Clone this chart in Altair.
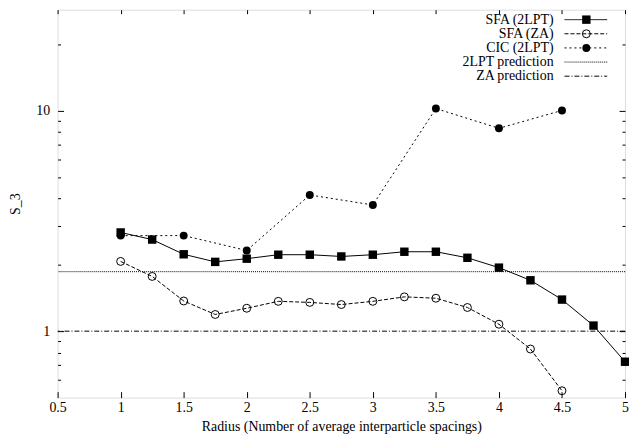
import altair as alt
import pandas as pd

# ---- data ----
radius_sfa = [1.0, 1.25, 1.5, 1.75, 2.0, 2.25, 2.5, 2.75, 3.0, 3.25, 3.5, 3.75, 4.0, 4.25, 4.5, 4.75, 5.0]
s3_sfa_2lpt = [2.80, 2.60, 2.23, 2.06, 2.13, 2.22, 2.22, 2.18, 2.22, 2.29, 2.29, 2.15, 1.94, 1.70, 1.39, 1.06, 0.727]

radius_za = [1.0, 1.25, 1.5, 1.75, 2.0, 2.25, 2.5, 2.75, 3.0, 3.25, 3.5, 3.75, 4.0, 4.25, 4.5]
s3_sfa_za = [2.07, 1.77, 1.37, 1.19, 1.27, 1.365, 1.35, 1.32, 1.365, 1.43, 1.41, 1.28, 1.075, 0.83, 0.537]

radius_cic = [1.0, 1.5, 2.0, 2.5, 3.0, 3.5, 4.0, 4.5]
s3_cic_2lpt = [2.71, 2.71, 2.32, 4.14, 3.73, 10.2, 8.30, 10.0]

pred_2lpt = 1.86
pred_za = 1.0

legend_labels = ["SFA (2LPT)", "SFA (ZA)", "CIC (2LPT)", "2LPT prediction", "ZA prediction"]

x_ticks = [0.5, 1, 1.5, 2, 2.5, 3, 3.5, 4, 4.5, 5]
y_major = [1, 10]
y_minor = [0.6, 0.7, 0.8, 0.9, 2, 3, 4, 5, 6, 7, 8, 9, 20]

# ---- layout ----
W, H = 572, 391
FONT = "Liberation Serif"
FS = 14

xscale = alt.Scale(domain=[0.5, 5], nice=False, zero=False)
yscale = alt.Scale(type="log", domain=[0.5, 28.6], nice=False)

df_sfa = pd.DataFrame({"r": radius_sfa, "s3": s3_sfa_2lpt})
df_za = pd.DataFrame({"r": radius_za, "s3": s3_sfa_za})
df_cic = pd.DataFrame({"r": radius_cic, "s3": s3_cic_2lpt})


def tick_axis(orient, values, size, offset):
    return alt.Axis(orient=orient, values=values, tickSize=size, offset=offset,
                    labels=False, domain=False, grid=False, title=None,
                    tickColor="black", tickWidth=1)


ax_x_labels = alt.Axis(orient="bottom", values=x_ticks, tickSize=0, domain=False, grid=False,
                       format="~g", labelFlush=False, labelOverlap=False, labelPadding=3,
                       labelFont=FONT, labelFontSize=FS, labelColor="black",
                       title="Radius (Number of average interparticle spacings)",
                       titleFont=FONT, titleFontSize=FS, titleFontWeight="normal",
                       titleColor="black", titlePadding=5)
ax_y_labels = alt.Axis(orient="left", values=y_major, tickSize=0, domain=False, grid=False,
                       format="~g", labelOverlap=False, labelPadding=8,
                       labelFont=FONT, labelFontSize=FS, labelColor="black",
                       title="S_3", titleFont=FONT, titleFontSize=FS, titleFontWeight="normal",
                       titleColor="black", titlePadding=13)

rule_2lpt = alt.Chart(pd.DataFrame({"v": [pred_2lpt]})).mark_rule(
    color="black", strokeWidth=1, strokeDash=[1, 1]).encode(
    y=alt.Y("v:Q", scale=yscale, axis=None))
rule_za = alt.Chart(pd.DataFrame({"v": [pred_za]})).mark_rule(
    color="black", strokeWidth=1, strokeDash=[5, 2, 1, 2]).encode(
    y=alt.Y("v:Q", scale=yscale, axis=None))

cic_line = alt.Chart(df_cic).mark_line(color="black", strokeWidth=1, strokeDash=[2, 3]).encode(
    x=alt.X("r:Q", scale=xscale, axis=ax_x_labels),
    y=alt.Y("s3:Q", scale=yscale, axis=ax_y_labels))
cic_pts = alt.Chart(df_cic).mark_point(shape="circle", filled=True, color="black", size=64, opacity=1).encode(
    x=alt.X("r:Q", scale=xscale, axis=tick_axis("top", x_ticks, 6, -H)),
    y=alt.Y("s3:Q", scale=yscale, axis=tick_axis("right", y_major, 6, -W)))

za_line = alt.Chart(df_za).mark_line(color="black", strokeWidth=1, strokeDash=[4, 2]).encode(
    x=alt.X("r:Q", scale=xscale, axis=tick_axis("bottom", x_ticks, 4, -H)),
    y=alt.Y("s3:Q", scale=yscale, axis=tick_axis("left", y_major, 6, -W)))
za_pts = alt.Chart(df_za).mark_point(shape="circle", filled=False, color="black", size=64,
                                     strokeWidth=1, opacity=1).encode(
    x=alt.X("r:Q", scale=xscale, axis=None),
    y=alt.Y("s3:Q", scale=yscale, axis=tick_axis("right", y_minor, 3, -W)))

sfa_line = alt.Chart(df_sfa).mark_line(color="black", strokeWidth=1).encode(
    x=alt.X("r:Q", scale=xscale, axis=None),
    y=alt.Y("s3:Q", scale=yscale, axis=tick_axis("left", y_minor, 3, -W)))
sfa_pts = alt.Chart(df_sfa).mark_point(shape="square", filled=True, color="black", size=72, opacity=1).encode(
    x=alt.X("r:Q", scale=xscale, axis=None),
    y=alt.Y("s3:Q", scale=yscale, axis=None))

data_layer = alt.layer(rule_2lpt, rule_za, cic_line, cic_pts, za_line, za_pts, sfa_line, sfa_pts).resolve_axis(
    x="independent", y="independent")

# ---- gnuplot-style key (top right, labels right-aligned left of samples) ----
# positions are relative to the plot area
KEY_TEXT_X, KEY_LINE_X1, KEY_LINE_X2, KEY_MARK_X = 500, 511, 554, 533
df_leg = pd.DataFrame({"label": legend_labels, "row": list(range(len(legend_labels)))})
leg_y = alt.Y("row:Q", scale=alt.Scale(domain=[0, 4], range=[10, 67], nice=False, zero=False), axis=None)

leg_text = alt.Chart(df_leg).mark_text(align="right", baseline="middle", font=FONT, fontSize=FS,
                                        color="black").encode(
    x=alt.value(KEY_TEXT_X), y=leg_y, text="label:N")


def leg_rule(i, dash):
    return alt.Chart(df_leg).transform_filter(alt.datum.row == i).mark_rule(
        color="black", strokeWidth=1, strokeDash=dash).encode(
        x=alt.value(KEY_LINE_X1), x2=alt.value(KEY_LINE_X2), y=leg_y)


def leg_point(i, shape, filled, size):
    return alt.Chart(df_leg).transform_filter(alt.datum.row == i).mark_point(
        shape=shape, filled=filled, color="black", size=size, strokeWidth=1, opacity=1).encode(
        x=alt.value(KEY_MARK_X), y=leg_y)


legend_layer = alt.layer(
    leg_rule(0, [1, 0]), leg_rule(1, [4, 2]), leg_rule(2, [2, 3]), leg_rule(3, [1, 1]),
    leg_rule(4, [5, 2, 1, 2]),
    leg_point(0, "square", True, 72), leg_point(1, "circle", False, 64), leg_point(2, "circle", True, 64),
    leg_text)

chart = alt.layer(data_layer, legend_layer).resolve_scale(y="independent").properties(
    width=W, height=H,
    autosize=alt.AutoSizeParams(type="none"),
    padding={"left": 50, "top": 0, "right": 4, "bottom": 40},
).configure_view(stroke="black", strokeWidth=1).configure(background="white")

chart.save("out.html", embed_options={"renderer": "svg", "actions": False})
